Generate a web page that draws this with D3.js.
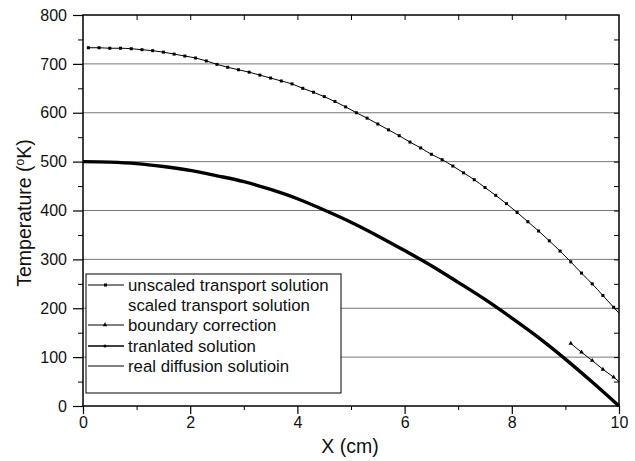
<!DOCTYPE html>
<html><head><meta charset="utf-8">
<script src="https://cdn.jsdelivr.net/npm/d3@7"></script>
<style>body{margin:0;background:#fff}svg{display:block}text{font-family:Arial,"Liberation Sans",sans-serif;fill:#111}</style>
</head><body><svg id="c" width="635" height="461"></svg>
<script>
// upper curve: unscaled transport solution (square markers)
const upperX = [0.1,0.3,0.5,0.7,0.9,1.1,1.3,1.5,1.7,1.9,2.1,2.3,2.5,2.7,2.9,3.1,3.3,3.5,3.7,3.9,4.1,4.3,4.5,4.7,4.9,5.1,5.3,5.5,5.7,5.9,6.1,6.3,6.5,6.7,6.9,7.1,7.3,7.5,7.7,7.9,8.1,8.3,8.5,8.7,8.9,9.1,9.3,9.5,9.7,9.9,10.0];
const upperY = [733,733,732,732,731,729,727,724,720,716,712,706,699,693,688,683,677,671,665,659,650,642,633,623,612,600,589,577,565,553,540,528,515,504,491,477,463,447,431,414,396,377,358,338,317,295,272,250,226,202,190];
// lower curve: translated / real diffusion solution
const lowerX = [0,0.5,1,1.5,2,2.5,3,3.5,4,4.5,5,5.5,6,6.5,7,7.5,8,8.5,9,9.5,10];
const lowerY = [500,499,496,490,482,471,459,443,424,401,376,348,318,287,253,218,180,140,96,49,0];
// boundary correction (triangles)
const bcX = [9.1,9.3,9.5,9.7,9.9,10.0];
const bcY = [128,110,93,75,59,50];
const legendLabels = ["unscaled transport solution","scaled transport solution","boundary correction","tranlated solution","real diffusion solutioin"];
const xTicks = [0,2,4,6,8,10];
const yTicks = [0,100,200,300,400,500,600,700,800];

const svg = d3.select("#c");
const L=83,R=619,T=15,B=406;
const x = d3.scaleLinear().domain([0,10]).range([L,R]);
const y = d3.scaleLinear().domain([0,800]).range([B,T]);

// grid
svg.append("g").selectAll("line").data(yTicks.filter(d=>d>0&&d<800)).join("line")
  .attr("x1",L).attr("x2",R).attr("y1",d=>y(d)).attr("y2",d=>y(d))
  .attr("stroke","#777").attr("stroke-width",1);

// frame
svg.append("rect").attr("x",L).attr("y",T).attr("width",R-L).attr("height",B-T)
  .attr("fill","none").attr("stroke","#000").attr("stroke-width",1.5);

// axes
const xa = svg.append("g").attr("transform",`translate(0,${B})`)
  .call(d3.axisBottom(x).tickValues(xTicks).tickSize(8).tickFormat(d3.format("d")));
const ya = svg.append("g").attr("transform",`translate(${L},0)`)
  .call(d3.axisLeft(y).tickValues(yTicks).tickSize(10));
[xa,ya].forEach(g=>{g.select(".domain").remove();g.selectAll("text").attr("font-size",16).style("font-family","Arial, 'Liberation Sans', sans-serif");g.selectAll("line").attr("stroke-width",1.2);});
ya.selectAll("text").attr("x",-16);
xa.selectAll("text").attr("y",11);
// minor ticks
svg.append("g").attr("transform",`translate(0,${B})`).call(d3.axisBottom(x).tickValues([1,3,5,7,9]).tickSize(4).tickFormat("")).select(".domain").remove();
svg.append("g").attr("transform",`translate(${L},0)`).call(d3.axisLeft(y).tickValues([50,150,250,350,450,550,650,750]).tickSize(5).tickFormat("")).select(".domain").remove();
// top & right inward ticks
svg.append("g").attr("transform",`translate(0,${T})`).call(d3.axisBottom(x).tickValues(d3.range(1,10)).tickSize(5).tickFormat("")).select(".domain").remove();
svg.append("g").attr("transform",`translate(${R},0)`).call(d3.axisLeft(y).tickValues(d3.range(50,800,50)).tickSize(5).tickFormat("")).select(".domain").remove();

// lines
const line = d3.line().x(d=>x(d[0])).y(d=>y(d[1]));
const upper = upperX.map((v,i)=>[v,upperY[i]]);
const lower = lowerX.map((v,i)=>[v,lowerY[i]]);
const bc = bcX.map((v,i)=>[v,bcY[i]]);
svg.append("path").attr("d",line.curve(d3.curveMonotoneX)(upper)).attr("fill","none").attr("stroke","#000").attr("stroke-width",1);
svg.append("g").selectAll("rect").data(upper.slice(0,-1)).join("rect")
  .attr("x",d=>x(d[0])-1.5).attr("y",d=>y(d[1])-1.5).attr("width",3).attr("height",3).attr("fill","#000");
svg.append("path").attr("d",line.curve(d3.curveMonotoneX)(lower)).attr("fill","none").attr("stroke","#000").attr("stroke-width",3.4);
svg.append("path").attr("d",line.curve(d3.curveLinear)(bc)).attr("fill","none").attr("stroke","#000").attr("stroke-width",1);
const tri = d3.symbol().type(d3.symbolTriangle).size(9);
svg.append("g").selectAll("path").data(bc.slice(0,-1)).join("path")
  .attr("transform",d=>`translate(${x(d[0])},${y(d[1])})`).attr("d",tri).attr("fill","#000");

// legend
const lg = svg.append("g");
lg.append("rect").attr("x",86).attr("y",274).attr("width",255).attr("height",119).attr("fill","#fff").attr("stroke","#000").attr("stroke-width",1);
const ly = [285,305,325,346,366];
legendLabels.forEach((t,i)=>{
  if(i!==1) lg.append("line").attr("x1",88).attr("x2",124).attr("y1",ly[i]).attr("y2",ly[i]).attr("stroke","#000").attr("stroke-width",i===3?1.5:1);
  if(i===0) lg.append("rect").attr("x",104).attr("y",ly[i]-1.5).attr("width",3).attr("height",3).attr("fill","#000");
  if(i===2) lg.append("path").attr("transform",`translate(105,${ly[i]})`).attr("d",tri).attr("fill","#000");
  if(i===3) lg.append("circle").attr("cx",105).attr("cy",ly[i]).attr("r",1.5).attr("fill","#000");
  lg.append("text").attr("x",128).attr("y",ly[i]+5.5).attr("font-size",16.8).text(t);
});

// titles
svg.append("text").attr("x",350).attr("y",453).attr("text-anchor","middle").attr("font-size",19.5).text("X (cm)");
const yt = svg.append("text").attr("transform","translate(31,213) rotate(-90)").attr("text-anchor","middle").attr("font-size",19.5);
yt.append("tspan").text("Temperature (");
yt.append("tspan").attr("font-size",12).attr("dy",-7).text("o");
yt.append("tspan").attr("dy",7).text("K)");
</script></body></html>
